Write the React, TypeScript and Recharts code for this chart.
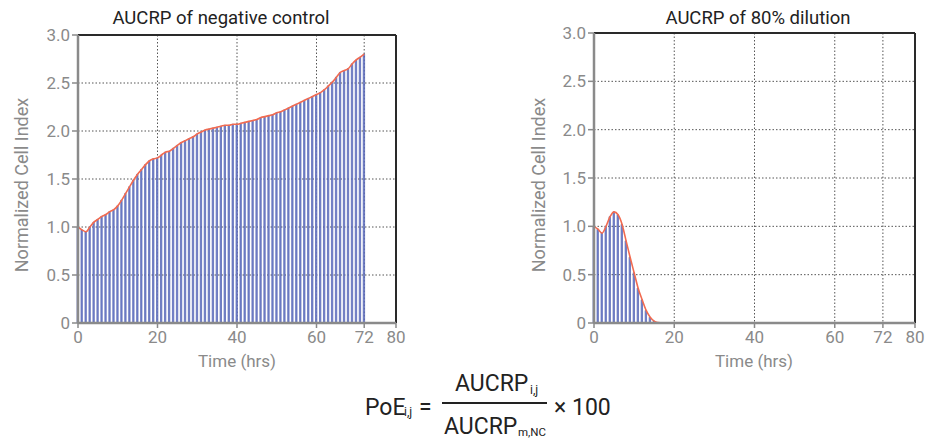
import { ComposedChart, Bar, Line, XAxis, YAxis, CartesianGrid, ReferenceLine } from 'recharts';

// hourly normalized cell index readings
const negativeControl = [
  1.0, 0.97, 0.95, 1.0, 1.05, 1.08, 1.11, 1.13, 1.16, 1.18,
  1.22, 1.28, 1.35, 1.42, 1.49, 1.55, 1.6, 1.65, 1.69, 1.71,
  1.72, 1.75, 1.78, 1.79, 1.82, 1.85, 1.88, 1.9, 1.92, 1.94,
  1.97, 1.99, 2.01, 2.02, 2.03, 2.04, 2.05, 2.06, 2.06, 2.07,
  2.07, 2.08, 2.09, 2.1, 2.11, 2.12, 2.14, 2.15, 2.16, 2.17,
  2.19, 2.2, 2.22, 2.24, 2.26, 2.28, 2.3, 2.32, 2.34, 2.36,
  2.38, 2.4, 2.43, 2.47, 2.51, 2.56, 2.61, 2.63, 2.65, 2.7,
  2.74, 2.77, 2.8,
];

const dilution80 = [
  1.0, 0.97, 0.93, 1.0, 1.1, 1.15, 1.12, 1.02, 0.85, 0.68,
  0.52, 0.36, 0.24, 0.13, 0.06, 0.02, 0.005, 0, 0,
];

const timeTicks = [0, 20, 40, 60, 72, 80];
const indexTicks = [0, 0.5, 1, 1.5, 2, 2.5, 3];

const toRows = (values: number[]) => values.map((value, hour) => ({ hour, value }));

const grey = '#8a8a8a';
const font = 'Roboto, sans-serif';

function Panel({ values, width, yAxisWidth, top, right }: {
  values: number[]; width: number; yAxisWidth: number; top: number; right: number;
}) {
  const rows = toRows(values);
  return (
    <ComposedChart width={width} height={370} data={rows}
      margin={{ top, right, bottom: 17, left: 0 }} style={{ fontFamily: font }}>
      <CartesianGrid stroke="#555" strokeDasharray="1.5 2" />
      <XAxis dataKey="hour" type="number" domain={[0, 80]} ticks={timeTicks} interval={0}
        height={30} tickSize={5} tickMargin={3}
        tick={{ fill: grey, fontSize: 17 }}
        tickLine={{ stroke: grey, strokeWidth: 1.5 }}
        axisLine={{ stroke: grey, strokeWidth: 2.5 }} />
      <YAxis type="number" domain={[0, 3]} ticks={indexTicks} interval={0} width={yAxisWidth}
        tickSize={6} tickMargin={2}
        tickFormatter={(v: number) => (v === 0 ? '0' : v.toFixed(1))}
        tick={{ fill: grey, fontSize: 17 }}
        tickLine={{ stroke: grey, strokeWidth: 1.5 }}
        axisLine={{ stroke: grey, strokeWidth: 2.5 }} />
      <ReferenceLine y={3} stroke="#2a2a2a" strokeWidth={2} />
      <ReferenceLine x={80} stroke="#2a2a2a" strokeWidth={2} />
      <Bar dataKey="value" barSize={1.4} fill="#8392d4" stroke="#3a4ca6" strokeWidth={0.6}
        isAnimationActive={false} />
      <Line dataKey="value" type="monotone" stroke="#f26b50" strokeWidth={1.6} dot={false}
        isAnimationActive={false} />
    </ComposedChart>
  );
}

const abs = (style: React.CSSProperties): React.CSSProperties => ({
  position: 'absolute', whiteSpace: 'nowrap', lineHeight: 1, ...style,
});

export default function App() {
  const title = { fontSize: 18.5, color: '#222' };
  const axisLabel = { fontSize: 17, color: grey };
  const yLabel = { fontSize: 18, color: grey };
  return (
    <div style={{ position: 'absolute', left: 0, top: 0, width: 937, height: 439, background: '#fff', fontFamily: font, overflow: 'hidden' }}>
      <div style={abs({ left: 0, top: 0 })}>
        <Panel values={negativeControl} width={420} yAxisWidth={78} top={35} right={24} />
      </div>
      <div style={abs({ left: 500, top: 0 })}>
        <Panel values={dilution80} width={437} yAxisWidth={94} top={33} right={22} />
      </div>

      <div style={abs({ left: 221, top: 9.3, transform: 'translateX(-50%)', ...title })}>AUCRP of negative control</div>
      <div style={abs({ left: 758, top: 9.3, transform: 'translateX(-50%)', ...title })}>AUCRP of 80% dilution</div>

      <div style={abs({ left: 21.5, top: 185, transform: 'translate(-50%, -50%) rotate(-90deg)', ...yLabel })}>Normalized Cell Index</div>
      <div style={abs({ left: 538.5, top: 185, transform: 'translate(-50%, -50%) rotate(-90deg)', ...yLabel })}>Normalized Cell Index</div>

      <div style={abs({ left: 237, top: 353, transform: 'translateX(-50%)', ...axisLabel })}>Time (hrs)</div>
      <div style={abs({ left: 754, top: 353, transform: 'translateX(-50%)', ...axisLabel })}>Time (hrs)</div>

      <div style={{ color: '#222' }}>
        <div style={abs({ left: 365, top: 395.6, fontSize: 23 })}>PoE</div>
        <div style={abs({ left: 404, top: 406, fontSize: 12 })}>i,j</div>
        <div style={abs({ left: 419, top: 395.6, fontSize: 23 })}>=</div>
        <div style={abs({ left: 455, top: 372.3, fontSize: 23 })}>AUCRP</div>
        <div style={abs({ left: 530, top: 383.5, fontSize: 12 })}>i,j</div>
        <div style={abs({ left: 442, top: 402.3, width: 105, height: 2, background: '#222' })} />
        <div style={abs({ left: 444, top: 414.6, fontSize: 23 })}>AUCRP</div>
        <div style={abs({ left: 518, top: 427, fontSize: 11.5 })}>m,NC</div>
        <div style={abs({ left: 554, top: 395.6, fontSize: 23 })}>× 100</div>
      </div>
    </div>
  );
}
